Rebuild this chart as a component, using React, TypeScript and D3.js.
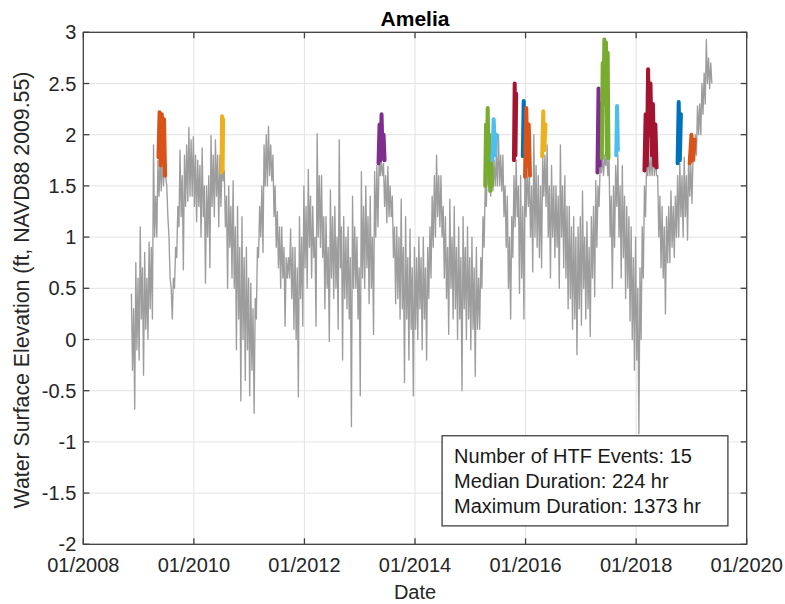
import React from "react";
import * as d3 from "d3";

const TITLE = "Amelia";
const X_LABEL = "Date";
const Y_LABEL = "Water Surface Elevation (ft, NAVD88 2009.55)";
const X_TICKS = [2008, 2010, 2012, 2014, 2016, 2018, 2020];
const Y_TICKS = [-2, -1.5, -1, -0.5, 0, 0.5, 1, 1.5, 2, 2.5, 3];

// gray water-level record: for each half-month window (SERIES_STEP years from SERIES_START)
// the high reading, followed by the low reading later in that window
const SERIES_START = 2008.87;
const SERIES_STEP = 0.04;
const LEVEL_HIGH = [
  0.45, 0.3, 0.75, 0.6, 1.1, 0.7, 0.85, 0.6, 0.95, 0.9,
  1.9, 1.4, 1.75, 1.8, 1.8, 1.75, 1.5, 1.0, 0.5, 0.6,
  0.9, 1.3, 1.85, 1.6, 1.8, 1.9, 2.07, 1.95, 1.98, 1.8,
  1.75, 1.7, 1.87, 1.5, 1.5, 1.6, 1.99, 1.8, 1.95, 1.8,
  1.8, 1.75, 1.65, 1.4, 1.5, 1.3, 1.55, 1.1, 1.3, 0.9,
  1.2, 0.8, 0.9, 0.6, 0.55, 0.3, 0.4, 0.9, 1.3, 1.5,
  1.9, 2.0, 2.08, 1.9, 1.8, 1.5, 1.25, 1.1, 1.1, 0.9,
  0.8, 0.8, 1.08, 0.9, 0.9, 0.7, 1.2, 1.0, 1.5, 1.3,
  1.66, 1.4, 1.3, 1.0, 2.01, 1.6, 1.6, 1.2, 1.2, 0.9,
  1.46, 1.2, 1.3, 1.0, 1.95, 1.1, 1.2, 1.0, 1.1, 0.8,
  1.4, 1.1, 1.0, 0.7, 1.64, 1.3, 1.5, 1.2, 1.4, 1.0,
  1.64, 1.7, 1.75, 1.75, 1.72, 1.6, 1.69, 1.5, 1.4, 1.1,
  1.1, 1.0, 1.37, 0.9, 1.2, 0.8, 1.08, 0.7, 0.9, 0.8,
  1.0, 0.8, 1.0, 0.7, 0.9, 1.1, 1.4, 1.6, 1.8, 1.6,
  1.6, 1.3, 1.2, 0.9, 1.37, 1.0, 1.3, 0.9, 1.1, 0.8,
  1.2, 0.9, 1.1, 0.8, 1.0, 0.7, 0.9, 0.6, 0.8, 1.2,
  1.5, 1.7, 1.8, 1.7, 1.75, 1.8, 2.0, 1.8, 1.8, 1.5,
  1.4, 1.0, 1.2, 1.6, 1.75, 1.5, 1.6, 1.3, 1.75, 1.7,
  1.6, 1.5, 2.0, 1.7, 1.6, 1.5, 1.8, 1.8, 1.9, 1.5,
  1.7, 1.5, 1.5, 1.4, 1.9, 1.5, 1.6, 1.3, 1.3, 1.1,
  1.2, 1.0, 1.1, 1.2, 1.45, 1.0, 1.15, 0.9, 1.2, 1.3,
  1.55, 1.5, 1.7, 1.8, 1.8, 1.8, 1.77, 1.4, 1.5, 1.7,
  1.8, 1.5, 1.7, 1.4, 1.3, 1.2, 1.1, 0.8, 1.0, 0.5,
  0.7, 1.1, 1.5, 1.75, 1.8, 1.8, 1.9, 1.8, 1.6, 1.4,
  1.3, 1.1, 1.2, 1.3, 1.45, 1.3, 1.4, 1.6, 1.72, 1.6,
  1.78, 1.6, 1.8, 1.7, 1.8, 2.0, 2.28, 2.3, 2.5, 2.6,
  2.93, 2.75, 2.7,
];
const LEVEL_LOW = [
  -0.3, -0.68, -0.1, -0.2, 0.2, -0.35, 0.1, 0.0, 0.3, 0.2,
  1.0, 1.0, 1.4, 1.45, 1.5, 1.6, 1.2, 0.6, 0.2, 0.5,
  0.8, 1.1, 1.2, 0.68, 1.3, 1.35, 1.4, 1.4, 1.3, 1.15,
  1.3, 1.0, 1.2, 0.55, 1.0, 0.7, 1.3, 1.2, 1.4, 1.1,
  1.3, 1.55, 1.1, 0.5, 0.9, 0.6, 0.5, -0.1, 0.2, -0.6,
  0.0, -0.4, -0.1, -0.55, -0.3, -0.72, 0.2, 0.8, 1.0, 0.85,
  1.5, 1.5, 1.6, 1.55, 1.2, 0.9, 0.7, 0.5, 0.6, 0.13,
  0.6, 0.6, 0.4, 0.1, 0.0, -0.56, 0.4, 0.13, 0.7, 0.5,
  0.9, 0.6, 0.8, 0.13, 1.0, 0.9, 0.8, 0.3, 0.5, -0.02,
  0.6, 0.4, 0.5, 0.1, 0.7, -0.2, 0.4, 0.3, 0.2, -0.85,
  0.5, 0.5, 0.2, -0.55, 0.6, 0.5, 0.7, 0.35, 0.5, 0.05,
  1.0, 1.1, 1.6, 1.6, 1.3, 1.14, 1.2, 1.2, 0.8, 0.35,
  0.4, 0.2, 0.3, -0.42, 0.2, -0.2, 0.1, -0.55, 0.1, 0.0,
  0.3, -0.1, 0.2, -0.2, 0.4, 0.6, 0.9, 1.0, 1.2, 1.1,
  1.0, 0.6, 0.4, 0.05, 0.5, 0.2, 0.3, 0.0, 0.2, -0.5,
  0.3, 0.0, 0.2, -0.1, 0.1, -0.36, 0.1, 0.1, 0.5, 0.9,
  1.3, 1.5, 1.4, 1.45, 1.5, 1.5, 1.5, 1.45, 1.2, 0.9,
  0.5, 0.2, 0.8, 1.1, 1.2, 0.45, 0.6, 0.2, 1.2, 1.3,
  1.0, 0.66, 1.0, 0.9, 0.8, 0.7, 1.4, 1.3, 1.0, 0.6,
  1.0, 0.8, 0.9, 0.5, 1.0, 0.7, 0.6, 0.3, 0.4, 0.1,
  0.2, -0.15, 0.3, 0.14, 0.5, 0.2, 0.3, 0.03, 0.6, 0.42,
  0.9, 1.3, 1.63, 1.6, 1.7, 1.6, 1.0, 0.5, 0.9, 1.3,
  1.0, 0.6, 0.8, 0.4, 0.5, 0.18, 0.0, -0.3, -0.2, -0.92,
  0.0, 0.6, 1.2, 1.6, 1.6, 1.6, 1.6, 1.6, 1.0, 0.7,
  0.6, 0.25, 0.75, 0.75, 0.9, 0.8, 1.0, 1.0, 1.2, 1.0,
  1.2, 0.97, 1.4, 1.33, 1.75, 1.8, 2.0, 2.0, 2.2, 2.3,
  2.5, 2.45, 2.5,
];

// high-tide-flooding events
const EVENT_START = [2009.36, 2010.5, 2013.34, 2015.27, 2015.4, 2015.79, 2015.95, 2015.99, 2016.3, 2017.3, 2017.38, 2017.64, 2018.15, 2018.75, 2018.97];
const EVENT_END = [2009.48, 2010.53, 2013.45, 2015.39, 2015.47, 2015.83, 2016.0, 2016.08, 2016.36, 2017.36, 2017.5, 2017.67, 2018.37, 2018.81, 2019.06];
const EVENT_VALUES = [
  [1.78, 2.22, 1.7, 2.2, 1.8, 2.15, 1.6],
  [1.63, 2.18, 1.65, 2.15],
  [1.72, 2.1, 1.75, 2.2, 1.8, 2.0, 1.75],
  [1.5, 2.1, 1.6, 2.26, 1.7, 2.0, 1.45, 1.9, 1.5],
  [1.75, 2.15, 1.8, 2.0],
  [1.75, 2.5, 1.8, 2.4],
  [1.79, 2.33, 1.85, 2.2],
  [1.59, 2.26, 1.7, 2.1, 1.6],
  [1.79, 2.23, 1.85, 2.1],
  [1.63, 2.45, 1.7, 2.3],
  [1.77, 2.7, 2.3, 2.93, 2.4, 2.9, 1.8, 2.8, 1.77],
  [1.8, 2.28, 1.85],
  [1.65, 2.2, 1.7, 2.64, 2.0, 2.5, 1.8, 2.3, 1.7, 2.1, 1.68],
  [1.72, 2.32, 1.75, 2.2],
  [1.72, 2.0, 1.75, 1.95],
];
const EVENT_COLORS = ["#D95319", "#EDB120", "#7E2F8E", "#77AC30", "#4DBEEE", "#A2142F", "#0072BD", "#D95319", "#EDB120", "#7E2F8E", "#77AC30", "#4DBEEE", "#A2142F", "#0072BD", "#D95319"];

const STATS = ["Number of HTF Events: 15", "Median Duration: 224 hr", "Maximum Duration: 1373 hr"];

const W = 785;
const H = 604;
const M = { left: 83.3, right: 746.7, top: 32.3, bottom: 544.3 };
const FONT = "'Liberation Sans', Arial, sans-serif";
const AXIS_COLOR = "#404040";

export default function App() {
  const x = d3.scaleLinear().domain([2008, 2020]).range([M.left, M.right]);
  const y = d3.scaleLinear().domain([-2, 3]).range([M.bottom, M.top]);

  const seriesPts: [number, number][] = [];
  LEVEL_HIGH.forEach((hi, i) => {
    const t = SERIES_START + i * SERIES_STEP;
    seriesPts.push([t, hi]);
    seriesPts.push([t + SERIES_STEP / 2, LEVEL_LOW[i]]);
  });
  const line = d3
    .line<[number, number]>()
    .x((d) => x(d[0]))
    .y((d) => y(d[1]));

  const events = EVENT_VALUES.map((vals, k) => {
    const t = d3.scaleLinear().domain([0, vals.length - 1]).range([EVENT_START[k], EVENT_END[k]]);
    return vals.map((v, i) => [t(i), v] as [number, number]);
  });

  const tickLen = 6;
  const boxX = x(2014.49);
  const boxY = y(-0.94);
  const boxW = x(2019.66) - x(2014.49);
  const boxH = y(-1.82) - y(-0.94);

  return (
    <svg width={W} height={H} style={{ position: "absolute", left: 0, top: 0, background: "#fff" }} fontFamily={FONT}>
      <rect x={0} y={0} width={W} height={H} fill="#fff" />
      {X_TICKS.slice(1, -1).map((t) => (
        <line key={"gx" + t} x1={x(t)} x2={x(t)} y1={M.top} y2={M.bottom} stroke="#e3e3e3" strokeWidth={1} />
      ))}
      {Y_TICKS.slice(1, -1).map((t) => (
        <line key={"gy" + t} x1={M.left} x2={M.right} y1={y(t)} y2={y(t)} stroke="#e3e3e3" strokeWidth={1} />
      ))}
      <path d={line(seriesPts) || ""} fill="none" stroke="#9d9d9d" strokeWidth={1.35} strokeLinejoin="round" />
      {events.map((pts, k) => (
        <path key={"ev" + k} d={line(pts) || ""} fill="none" stroke={EVENT_COLORS[k]} strokeWidth={4} strokeLinejoin="round" strokeLinecap="round" />
      ))}
      <rect x={M.left} y={M.top} width={M.right - M.left} height={M.bottom - M.top} fill="none" stroke={AXIS_COLOR} strokeWidth={1.3} />
      {X_TICKS.map((t) => (
        <g key={"xt" + t}>
          <line x1={x(t)} x2={x(t)} y1={M.bottom} y2={M.bottom - tickLen} stroke={AXIS_COLOR} strokeWidth={1.3} />
          <line x1={x(t)} x2={x(t)} y1={M.top} y2={M.top + tickLen} stroke={AXIS_COLOR} strokeWidth={1.3} />
          <text x={x(t)} y={M.bottom + 28} textAnchor="middle" fontSize={20} fill="#262626">
            {"01/" + t}
          </text>
        </g>
      ))}
      {Y_TICKS.map((t) => (
        <g key={"yt" + t}>
          <line x1={M.left} x2={M.left + tickLen} y1={y(t)} y2={y(t)} stroke={AXIS_COLOR} strokeWidth={1.3} />
          <line x1={M.right} x2={M.right - tickLen} y1={y(t)} y2={y(t)} stroke={AXIS_COLOR} strokeWidth={1.3} />
          <text x={M.left - 7} y={y(t) + 7} textAnchor="end" fontSize={20} fill="#262626">
            {String(t)}
          </text>
        </g>
      ))}
      <text x={(M.left + M.right) / 2} y={26} textAnchor="middle" fontSize={21} fontWeight="bold" fill="#000">
        {TITLE}
      </text>
      <text x={(M.left + M.right) / 2} y={599} textAnchor="middle" fontSize={20} fill="#262626">
        {X_LABEL}
      </text>
      <text transform={`translate(29, 290) rotate(-90)`} textAnchor="middle" fontSize={21.3} fill="#262626">
        {Y_LABEL}
      </text>
      <rect x={boxX} y={boxY} width={boxW} height={boxH} fill="#fff" stroke={AXIS_COLOR} strokeWidth={1.3} />
      {STATS.map((s, i) => (
        <text key={s} x={boxX + 12} y={boxY + 27 + i * 25} fontSize={20} fill="#1a1a1a">
          {s}
        </text>
      ))}
    </svg>
  );
}
